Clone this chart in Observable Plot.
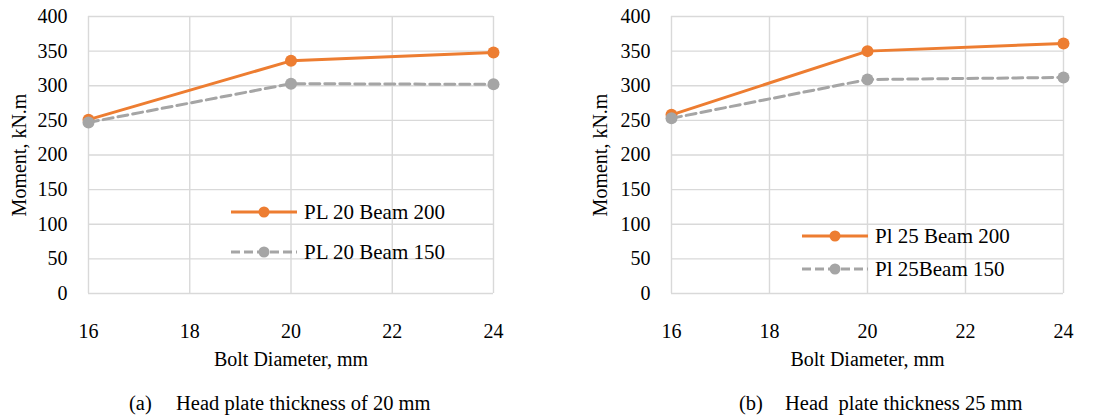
<!DOCTYPE html>
<html><head><meta charset="utf-8">
<script src="https://cdn.jsdelivr.net/npm/d3@7"></script>
<script src="https://cdn.jsdelivr.net/npm/@observablehq/plot@0.6"></script>
<style>
body{margin:0;background:#fff;font-family:"Liberation Serif","Times New Roman",serif;color:#000;}
#root{position:relative;width:1094px;height:416px;overflow:hidden;}
.panel{position:absolute;top:0;}
.leg{position:absolute;font-size:21px;white-space:pre;display:flex;align-items:center;line-height:1;}
.leg svg{margin-right:6px;}
.caption{position:absolute;white-space:pre;font-size:20.5px;line-height:1;}
</style>
</head><body>
<div id="root"></div>
<script>
// ---- data ----
const boltDiameters = [16, 20, 24];
const pl20Beam200 = [251, 336, 348];
const pl20Beam150 = [247, 303, 302];
const pl25Beam200 = [258, 350, 361];
const pl25Beam150 = [253, 309, 312];
const xTicks = [16, 18, 20, 22, 24];
const yTicks = [0, 50, 100, 150, 200, 250, 300, 350, 400];
const seriesNamesA = ["PL 20 Beam 200", "PL 20 Beam 150"];
const seriesNamesB = ["Pl 25 Beam 200", "Pl 25Beam 150"];
const captionA = ["(a)", "Head plate thickness of 20 mm"];
const captionB = ["(b)", "Head  plate thickness 25 mm"];

const ORANGE = "#ED7D31", GRAY = "#A5A5A5", GRID = "#d9d9d9";
const root = document.getElementById("root");

function panel(cfg) {
  const rows = boltDiameters.map((d, i) => ({d, a: cfg.s200[i], b: cfg.s150[i]}));
  const chart = Plot.plot({
    width: cfg.w, height: 380,
    marginLeft: cfg.ml, marginRight: cfg.mr, marginTop: 16, marginBottom: 87,
    style: {fontFamily: "'Liberation Serif', 'Times New Roman', serif", fontSize: "20px", color: "#000", background: "transparent", overflow: "visible"},
    x: {domain: [16, 24]},
    y: {domain: [0, 400]},
    marks: [
      Plot.gridX(xTicks, {stroke: GRID, strokeOpacity: 1, strokeWidth: 1.4}),
      Plot.gridY(yTicks, {stroke: GRID, strokeOpacity: 1, strokeWidth: 1.4}),
      Plot.axisX(xTicks, {tickSize: 0, tickPadding: 30, label: "Bolt Diameter, mm", labelAnchor: "center", labelOffset: 72, labelArrow: "none"}),
      Plot.axisY(yTicks, {tickSize: 0, tickPadding: 21, label: "Moment, kN.m", labelAnchor: "center", labelOffset: cfg.lo, labelArrow: "none"}),
      Plot.line(rows, {x: "d", y: "a", stroke: ORANGE, strokeWidth: 3}),
      Plot.dot(rows, {x: "d", y: "a", r: 6, fill: ORANGE}),
      Plot.line(rows, {x: "d", y: "b", stroke: GRAY, strokeWidth: 3, strokeDasharray: "10,5"}),
      Plot.dot(rows, {x: "d", y: "b", r: 6, fill: GRAY})
    ]
  });
  const wrap = document.createElement("div");
  wrap.className = "panel";
  wrap.style.left = cfg.left + "px";
  wrap.appendChild(chart);
  root.appendChild(wrap);

  // legend
  [[cfg.names[0], ORANGE, null, cfg.ly[0]], [cfg.names[1], GRAY, "9,4", cfg.ly[1]]].forEach(([name, color, dash, y]) => {
    const el = document.createElement("div");
    el.className = "leg";
    el.style.left = cfg.lx + "px";
    el.style.top = (y - 11) + "px";
    el.style.height = "22px";
    el.innerHTML = `<svg width="68" height="22"><line x1="1" x2="67" y1="11" y2="11" stroke="${color}" stroke-width="3" ${dash ? `stroke-dasharray="${dash}"` : ""}/><circle cx="34" cy="11" r="5.5" fill="${color}"/></svg><span>${name}</span>`;
    root.appendChild(el);
  });

  // caption
  const c1 = document.createElement("div");
  c1.className = "caption"; c1.textContent = cfg.cap[0];
  c1.style.left = cfg.cx[0] + "px"; c1.style.top = "393px";
  const c2 = document.createElement("div");
  c2.className = "caption"; c2.textContent = cfg.cap[1];
  c2.style.left = cfg.cx[1] + "px"; c2.style.top = "393px";
  root.appendChild(c1); root.appendChild(c2);
}

panel({left: 0, w: 547, ml: 88, mr: 54, lo: 77, s200: pl20Beam200, s150: pl20Beam150,
  names: seriesNamesA, lx: 230, ly: [212, 252], cap: captionA, cx: [129, 176]});
panel({left: 555, w: 539, ml: 116, mr: 31, lo: 79, s200: pl25Beam200, s150: pl25Beam150,
  names: seriesNamesB, lx: 801, ly: [236, 269], cap: captionB, cx: [739, 785]});
</script>
</body></html>
